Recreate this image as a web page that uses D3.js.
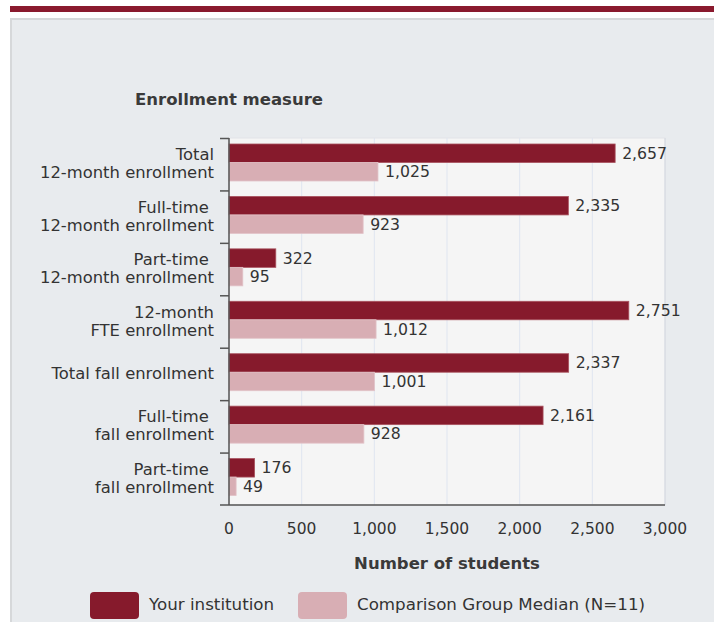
<!DOCTYPE html>
<html>
<head>
<meta charset="utf-8">
<script src="https://cdn.jsdelivr.net/npm/d3@7"></script>
<style>
  body { margin: 0; background: #fff; }
  svg text { font-family: 'DejaVu Sans', Verdana, sans-serif; fill: #333; }
</style>
</head>
<body>
<div id="chart"></div>
<script>
var categories = [
  ['Total', '12-month enrollment'],
  ['Full-time ', '12-month enrollment'],
  ['Part-time ', '12-month enrollment'],
  ['12-month', 'FTE enrollment'],
  ['Total fall enrollment'],
  ['Full-time ', 'fall enrollment'],
  ['Part-time ', 'fall enrollment']
];
var institution = [2657, 2335, 322, 2751, 2337, 2161, 176];
var groupMedian = [1025, 923, 95, 1012, 1001, 928, 49];
var xTicks = [0, 500, 1000, 1500, 2000, 2500, 3000];
var seriesNames = ['Your institution', 'Comparison Group Median (N=11)'];
var colors = ['#861a2c', '#d8aeb4'];

var w = 714;
var h = 622;
var svg = d3.select('#chart').append('svg').attr('width', w).attr('height', h);

// header strip and panel
svg.append('rect').attr('x', 10).attr('y', 6).attr('width', w - 10).attr('height', 6).attr('fill', '#8a1a2e');
svg.append('rect').attr('x', 11).attr('y', 19).attr('width', w).attr('height', h)
  .attr('fill', '#e8ebee').attr('stroke', '#d6d8da').attr('stroke-width', 2);

var plotL = 229, plotR = 665, plotT = 138, plotB = 505;

var x = d3.scaleLinear().domain([0, 3000]).range([plotL, plotR]);
var y = d3.scaleBand().domain(d3.range(categories.length)).range([plotT, plotB]);

// plot background
svg.append('rect').attr('x', plotL).attr('y', plotT).attr('width', plotR - plotL).attr('height', plotB - plotT)
  .attr('fill', '#f5f5f5').attr('stroke', '#e2e4e8');

// grid
svg.selectAll('.grid').data(xTicks.slice(1)).enter().append('line')
  .attr('x1', function (d) { return x(d); }).attr('x2', function (d) { return x(d); })
  .attr('y1', plotT).attr('y2', plotB)
  .attr('stroke', function (d, i) { return i == xTicks.length - 2 ? '#d4d8e0' : '#dfe5f0'; });

// bars
var barH = 18.5;
var barOff = 6;
var series = [institution, groupMedian];
series.forEach(function (vals, s) {
  svg.selectAll('.bar' + s).data(vals).enter().append('rect')
    .attr('class', 'bar' + s)
    .attr('x', x(0))
    .attr('y', function (d, i) { return y(i) + barOff + s * barH; })
    .attr('width', function (d) { return x(d) - x(0); })
    .attr('height', barH)
    .attr('fill', colors[s])
    .attr('stroke', s == 0 ? '#a9535f' : '#e2c3c8')
    .attr('stroke-width', 0.8);

  svg.selectAll('.val' + s).data(vals).enter().append('text')
    .attr('x', function (d) { return x(d) + 7; })
    .attr('y', function (d, i) { return y(i) + barOff + s * barH + barH / 2 + 5.5; })
    .attr('font-size', '15.7px')
    .text(function (d) { return d3.format(',')(d); });
});

// y axis
svg.append('line').attr('x1', plotL).attr('x2', plotL).attr('y1', plotT).attr('y2', plotB)
  .attr('stroke', '#555').attr('stroke-width', 1.5);
svg.selectAll('.ytick').data(d3.range(categories.length)).enter().append('line')
  .attr('x1', plotL - 9).attr('x2', plotL)
  .attr('y1', function (d) { return y(d) + 0.5; }).attr('y2', function (d) { return y(d) + 0.5; })
  .attr('stroke', '#555').attr('stroke-width', 1.5);

var catLabels = svg.selectAll('.cat').data(categories).enter().append('text')
  .attr('text-anchor', 'end')
  .attr('font-size', '16.4px')
  .attr('y', function (d, i) { return y(i) + y.bandwidth() / 2 + 5.5 - (d.length - 1) * 9.5; })
  .style('white-space', 'pre');
catLabels.selectAll('tspan').data(function (d) { return d; }).enter().append('tspan')
  .attr('x', 214)
  .attr('dy', function (d, i) { return i == 0 ? 0 : 18; })
  .text(function (d) { return d; });

// x axis
svg.append('line').attr('x1', plotL - 9).attr('x2', plotR).attr('y1', plotB).attr('y2', plotB)
  .attr('stroke', '#555').attr('stroke-width', 1.5);
svg.selectAll('.xlab').data(xTicks).enter().append('text')
  .attr('x', function (d) { return x(d); })
  .attr('y', 534)
  .attr('text-anchor', 'middle')
  .attr('font-size', '15.5px')
  .text(function (d) { return d3.format(',')(d); });

// titles
svg.append('text').attr('x', 135).attr('y', 105).attr('font-size', '16.5px')
  .attr('font-weight', 'bold').style('fill', '#3a3a3a').text('Enrollment measure');
svg.append('text').attr('x', x(1500)).attr('y', 569).attr('text-anchor', 'middle')
  .attr('font-size', '16.5px').attr('font-weight', 'bold').style('fill', '#3a3a3a').text('Number of students');

// legend
var legendX = [90, 298];
var legend = svg.selectAll('.legend').data(seriesNames).enter().append('g')
  .attr('transform', function (d, i) { return 'translate(' + legendX[i] + ',592)'; });
legend.append('rect').attr('width', 49).attr('height', 27).attr('rx', 4)
  .attr('fill', function (d, i) { return colors[i]; });
legend.append('text').attr('x', 59).attr('y', 18).attr('font-size', '16.7px')
  .text(function (d) { return d; });
</script>
</body>
</html>
